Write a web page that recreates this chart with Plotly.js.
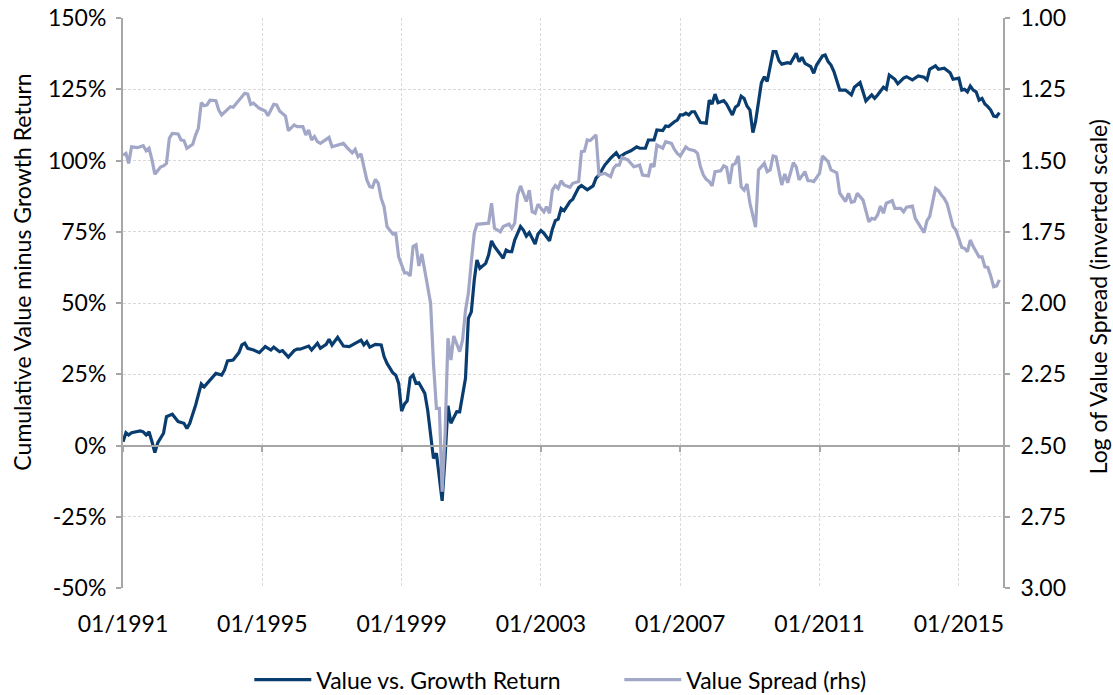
<!DOCTYPE html>
<html>
<head>
<meta charset="utf-8">
<script src="https://cdn.plot.ly/plotly-3.0.1.min.js"></script>
<style>
  html, body { margin: 0; padding: 0; background: #ffffff; }
  #chart { width: 1113px; height: 695px; }
</style>
</head>
<body>
<div id="chart"></div>
<script>
// Value vs. Growth cumulative return (%), left axis
const returnDates = [
  "1991-01","1991-02","1991-03","1991-04","1991-07","1991-08","1991-09","1991-10","1991-11","1991-12",
  "1992-01","1992-03","1992-04","1992-06","1992-08","1992-10","1992-11","1992-12",
  "1993-02","1993-04","1993-05","1993-08","1993-09","1993-11","1993-12",
  "1994-01","1994-03","1994-05","1994-06","1994-07","1994-08","1994-10","1994-12",
  "1995-02","1995-04","1995-05","1995-07","1995-08","1995-10","1995-12",
  "1996-01","1996-02","1996-03","1996-05","1996-06","1996-07","1996-08","1996-09","1996-11","1996-12",
  "1997-01","1997-03","1997-05","1997-07","1997-09","1997-11","1997-12",
  "1998-01","1998-02","1998-04","1998-06","1998-07","1998-08","1998-10","1998-11","1998-12",
  "1999-01","1999-02","1999-03","1999-04","1999-05","1999-06","1999-07","1999-09","1999-10","1999-11","1999-12",
  "2000-01","2000-03","2000-04","2000-05","2000-06","2000-08","2000-09","2000-11","2000-12",
  "2001-01","2001-02","2001-03","2001-04","2001-06","2001-07","2001-08","2001-09","2001-11","2001-12",
  "2002-01","2002-02","2002-03","2002-04","2002-06","2002-07","2002-08","2002-09","2002-11","2002-12",
  "2003-01","2003-02","2003-04","2003-05","2003-06","2003-07","2003-08","2003-09","2003-11","2003-12",
  "2004-01","2004-02","2004-03","2004-05","2004-07","2004-08","2004-09","2004-11",
  "2005-01","2005-03","2005-04","2005-06","2005-08","2005-10","2005-11",
  "2006-01","2006-02","2006-04","2006-05","2006-07","2006-08","2006-09","2006-11","2006-12",
  "2007-01","2007-02","2007-03","2007-04","2007-05","2007-06","2007-07","2007-08","2007-10","2007-11","2007-12",
  "2008-01","2008-02","2008-04","2008-05","2008-07","2008-08","2008-09","2008-10","2008-11","2008-12",
  "2009-01","2009-02","2009-03","2009-05","2009-06","2009-07","2009-08","2009-09","2009-10","2009-11","2009-12",
  "2010-02","2010-03","2010-04","2010-05","2010-06","2010-07","2010-08","2010-10","2010-11","2010-12",
  "2011-02","2011-03","2011-04","2011-05","2011-06","2011-07","2011-08","2011-10","2011-12",
  "2012-01","2012-03","2012-04","2012-05","2012-07","2012-08","2012-09","2012-11","2012-12",
  "2013-01","2013-03","2013-04","2013-06","2013-07","2013-09","2013-11",
  "2014-01","2014-02","2014-03","2014-05","2014-06","2014-08","2014-10","2014-11",
  "2015-01","2015-02","2015-03","2015-04","2015-05","2015-06","2015-07","2015-08","2015-09","2015-10","2015-11","2015-12",
  "2016-01","2016-02","2016-03"
];
const returnValues = [
  1.3,4.5,3.7,4.5,5.1,4.8,3.7,4.8,1.3,-2.5,
  1.0,4.3,10.1,11.0,8.4,7.8,6.0,7.8,
  14.2,21.6,20.6,24.1,25.3,24.7,26.5,
  29.7,30.0,32.6,35.3,35.9,34.1,33.5,32.6,
  34.7,33.5,34.5,32.9,33.3,31.0,33.3,
  33.8,33.8,34.1,34.9,33.5,34.7,35.9,34.1,35.5,37.3,
  35.3,38.0,34.9,34.7,35.9,37.0,35.3,
  36.4,34.5,35.5,35.3,31.2,28.8,25.5,24.7,21.8,
  12.1,14.6,15.7,23.8,24.7,21.8,22.0,18.3,12.5,3.1,-4.5,
  -2.7,-19.4,-3.9,13.9,7.8,11.9,11.8,23.6,44.6,
  46.9,58.1,65.1,62.2,63.9,66.8,71.8,69.8,66.8,65.7,
  68.6,68.0,68.0,72.1,76.8,75.6,73.5,74.7,70.7,74.2,
  75.4,74.5,71.8,75.9,78.9,79.4,83.2,82.4,85.6,86.4,
  88.5,90.5,91.2,89.7,91.1,93.8,94.9,98.4,
  100.8,102.7,101.1,102.5,103.4,104.8,104.3,
  104.3,107.2,107.2,110.7,110.5,112.1,111.9,113.6,114.2,
  116.0,116.0,116.6,116.0,117.1,117.1,115.2,113.3,113.1,121.2,119.8,
  123.3,120.3,121.0,119.8,116.0,118.7,119.5,122.6,121.8,119.1,
  117.7,109.8,113.6,127.3,129.4,127.7,133.5,138.2,138.2,135.0,133.8,
  134.3,134.1,135.9,137.6,134.7,136.2,134.1,132.9,130.6,133.5,
  136.7,137.0,134.7,133.5,131.2,128.3,124.7,124.7,123.0,
  125.7,127.4,124.1,120.9,123.0,121.8,123.0,125.7,125.0,
  130.0,128.5,126.9,128.9,129.4,128.3,129.7,
  129.2,128.3,132.0,133.2,132.0,132.4,130.8,128.5,
  128.9,124.7,125.0,124.1,126.1,124.7,124.1,121.2,121.8,119.8,118.9,117.7,
  115.6,115.4,116.8
];

// Log of value spread, right axis (inverted)
const spreadDates = [
  "1991-01","1991-02","1991-03","1991-04","1991-06","1991-08","1991-09","1991-10","1991-11","1991-12",
  "1992-02","1992-03","1992-04","1992-05","1992-06","1992-08","1992-09","1992-10","1992-11",
  "1993-01","1993-02","1993-03","1993-04","1993-05","1993-06","1993-07","1993-09","1993-10","1993-11",
  "1994-01","1994-02","1994-03","1994-05","1994-07","1994-08","1994-09","1994-10","1994-12",
  "1995-02","1995-03","1995-05","1995-06","1995-07","1995-09","1995-10","1995-12",
  "1996-01","1996-03","1996-04","1996-05","1996-06","1996-07","1996-08","1996-09","1996-11","1996-12",
  "1997-01","1997-03","1997-05","1997-06","1997-08","1997-09","1997-10","1997-11","1997-12",
  "1998-01","1998-02","1998-03","1998-04","1998-05","1998-06","1998-07","1998-08","1998-10","1998-11","1998-12",
  "1999-02","1999-03","1999-04","1999-05","1999-06","1999-07","1999-08","1999-09","1999-10","1999-11","1999-12",
  "2000-01","2000-02","2000-03","2000-04","2000-05","2000-06","2000-07","2000-09","2000-10","2000-11","2000-12",
  "2001-01","2001-02","2001-03","2001-06","2001-07","2001-08","2001-09","2001-11","2001-12",
  "2002-02","2002-03","2002-04","2002-05","2002-06","2002-07","2002-08","2002-09","2002-10","2002-11","2002-12",
  "2003-01","2003-02","2003-03","2003-04","2003-05","2003-06","2003-07","2003-08","2003-09","2003-11","2003-12",
  "2004-02","2004-03","2004-04","2004-05","2004-06","2004-08","2004-09","2004-11","2004-12",
  "2005-01","2005-02","2005-03","2005-04","2005-05","2005-07","2005-09","2005-10","2005-11","2005-12",
  "2006-02","2006-03","2006-04","2006-05","2006-07","2006-08","2006-10","2006-11","2006-12",
  "2007-01","2007-03","2007-04","2007-06","2007-07","2007-08","2007-09","2007-10","2007-11","2007-12",
  "2008-01","2008-03","2008-04","2008-05","2008-06","2008-07","2008-08","2008-09","2008-10","2008-11","2008-12",
  "2009-01","2009-03","2009-04","2009-06","2009-07","2009-08","2009-09","2009-10","2009-11","2009-12",
  "2010-01","2010-02","2010-04","2010-05","2010-06","2010-08","2010-09","2010-10","2010-11",
  "2011-01","2011-02","2011-03","2011-04","2011-05","2011-07","2011-08","2011-10","2011-11","2011-12",
  "2012-01","2012-02","2012-04","2012-06","2012-07","2012-08","2012-09","2012-10","2012-11","2012-12",
  "2013-02","2013-03","2013-05","2013-06","2013-07","2013-09","2013-10",
  "2014-01","2014-02","2014-03","2014-05","2014-06","2014-07","2014-08","2014-09","2014-10","2014-11","2014-12",
  "2015-02","2015-03","2015-04","2015-05","2015-06","2015-08","2015-09","2015-10","2015-11","2015-12",
  "2016-01","2016-02","2016-03"
];
const spreadValues = [
  1.481,1.475,1.510,1.452,1.455,1.448,1.466,1.457,1.498,1.548,
  1.522,1.519,1.510,1.422,1.405,1.407,1.428,1.430,1.457,
  1.443,1.410,1.387,1.297,1.308,1.305,1.288,1.290,1.323,1.340,
  1.323,1.311,1.313,1.290,1.264,1.267,1.303,1.299,1.317,
  1.326,1.343,1.303,1.305,1.326,1.344,1.395,1.375,
  1.381,1.381,1.410,1.393,1.428,1.416,1.434,1.440,1.426,1.419,
  1.452,1.446,1.440,1.452,1.473,1.461,1.487,1.477,1.522,
  1.568,1.592,1.594,1.566,1.580,1.633,1.662,1.732,1.758,1.756,1.838,
  1.894,1.894,1.905,1.802,1.796,1.870,1.828,1.884,1.943,2.001,2.212,
  2.370,2.370,2.662,2.457,2.124,2.200,2.116,2.171,2.130,2.025,1.966,
  1.855,1.755,1.724,1.720,1.720,1.650,1.738,1.750,1.732,
  1.723,1.738,1.720,1.621,1.589,1.615,1.644,1.604,1.680,1.685,1.653,
  1.668,1.680,1.662,1.685,1.604,1.588,1.598,1.571,1.586,1.594,1.580,
  1.574,1.469,1.467,1.428,1.430,1.410,1.551,1.545,1.551,
  1.557,1.527,1.516,1.516,1.489,1.498,1.522,1.519,1.516,1.551,
  1.554,1.512,1.522,1.446,1.457,1.434,1.440,1.461,1.475,
  1.484,1.452,1.461,1.466,1.475,1.522,1.551,1.566,1.574,1.589,
  1.539,1.536,1.519,1.524,1.582,1.516,1.510,1.484,1.592,1.604,1.582,
  1.650,1.734,1.533,1.510,1.539,1.533,1.484,1.487,1.533,1.586,
  1.547,1.578,1.508,1.522,1.568,1.539,1.571,1.571,1.574,
  1.545,1.484,1.492,1.504,1.533,1.543,1.615,1.644,1.615,1.647,
  1.644,1.615,1.639,1.715,1.703,1.706,1.691,1.660,1.685,1.650,
  1.641,1.668,1.668,1.680,1.664,1.660,1.703,
  1.753,1.711,1.697,1.598,1.606,1.621,1.633,1.653,1.697,1.732,1.744,
  1.805,1.808,1.820,1.779,1.802,1.838,1.838,1.873,1.875,1.905,
  1.943,1.940,1.919
];

const seriesNames = ["Value vs. Growth Return", "Value Spread (rhs)"];
const leftTickVals = [-50, -25, 0, 25, 50, 75, 100, 125, 150];
const leftTickText = ["-50%", "-25%", "0%", "25%", "50%", "75%", "100%", "125%", "150%"];
const rightTickVals = [1.00, 1.25, 1.50, 1.75, 2.00, 2.25, 2.50, 2.75, 3.00];
const leftTitle = "Cumulative Value minus Growth Return";
const rightTitle = "Log of Value Spread (inverted scale)";

const FONT = "Lato, 'Open Sans', sans-serif";
const AXIS_GREY = "#a6a6a6";
const GRID = "#d9d9d9";
const XRANGE = ["1991-01-01", "2016-04-08"];

const traces = [
  {
    x: returnDates, y: returnValues, name: seriesNames[0],
    type: "scatter", mode: "lines",
    line: { color: "#0a3d6f", width: 3.2 },
    xaxis: "x", yaxis: "y"
  },
  {
    x: spreadDates, y: spreadValues, name: seriesNames[1],
    type: "scatter", mode: "lines",
    line: { color: "#a2a7c7", width: 3.2 },
    xaxis: "x2", yaxis: "y2"
  }
];

const layout = {
  width: 1113, height: 695,
  margin: { l: 123, r: 110, t: 18, b: 107, autoexpand: false },
  paper_bgcolor: "#ffffff", plot_bgcolor: "#ffffff",
  font: { family: FONT, size: 23, color: "#000000" },
  showlegend: true,
  legend: {
    orientation: "h", xref: "container", yref: "container",
    x: 0.224, xanchor: "left", y: 0.022, yanchor: "middle",
    font: { family: FONT, size: 23, color: "#000000" },
    itemwidth: 57, entrywidth: 298, traceorder: "normal",
    bgcolor: "rgba(0,0,0,0)"
  },
  xaxis: {
    type: "date", range: XRANGE,
    tick0: "1991-01-01", dtick: "M48", tickformat: "%m/%Y",
    showgrid: true, gridcolor: GRID, griddash: "3px,2px", gridwidth: 1,
    showline: false, zeroline: false, ticks: "",
    ticklabelstandoff: 20,
    tickfont: { family: FONT, size: 23, color: "#000000" }
  },
  xaxis2: {
    type: "date", range: XRANGE, matches: "x",
    tick0: "1991-01-01", dtick: "M48",
    overlaying: "x", anchor: "free", position: 0.25, side: "bottom",
    showgrid: false, zeroline: false, showticklabels: false,
    showline: true, linecolor: AXIS_GREY, linewidth: 2,
    ticks: "outside", ticklen: 5, tickwidth: 2, tickcolor: AXIS_GREY
  },
  yaxis: {
    range: [-50, 150], tickvals: leftTickVals, ticktext: leftTickText,
    showgrid: true, gridcolor: GRID, griddash: "3px,2px", gridwidth: 1,
    zeroline: false,
    showline: true, linecolor: AXIS_GREY, linewidth: 2,
    ticks: "outside", ticklen: 5, tickwidth: 2, tickcolor: AXIS_GREY,
    ticklabelstandoff: 5,
    tickfont: { family: FONT, size: 23, color: "#000000" }
  },
  yaxis2: {
    range: [3, 1], tickvals: rightTickVals, tickformat: ".2f",
    overlaying: "y", side: "right", anchor: "x",
    showgrid: false, zeroline: false,
    showline: true, linecolor: AXIS_GREY, linewidth: 2,
    ticks: "outside", ticklen: 5, tickwidth: 2, tickcolor: AXIS_GREY,
    ticklabelstandoff: 6,
    tickfont: { family: FONT, size: 23, color: "#000000" }
  },
  annotations: [
    {
      text: leftTitle, xref: "paper", yref: "paper", x: -0.1148, y: 0.555,
      xanchor: "center", yanchor: "middle", textangle: -90, showarrow: false,
      font: { family: FONT, size: 23, color: "#000000" }
    },
    {
      text: rightTitle, xref: "paper", yref: "paper", x: 1.108, y: 0.51,
      xanchor: "center", yanchor: "middle", textangle: -90, showarrow: false,
      font: { family: FONT, size: 23, color: "#000000" }
    }
  ]
};

Plotly.newPlot("chart", traces, layout, { displayModeBar: false, staticPlot: true });
</script>
</body>
</html>
